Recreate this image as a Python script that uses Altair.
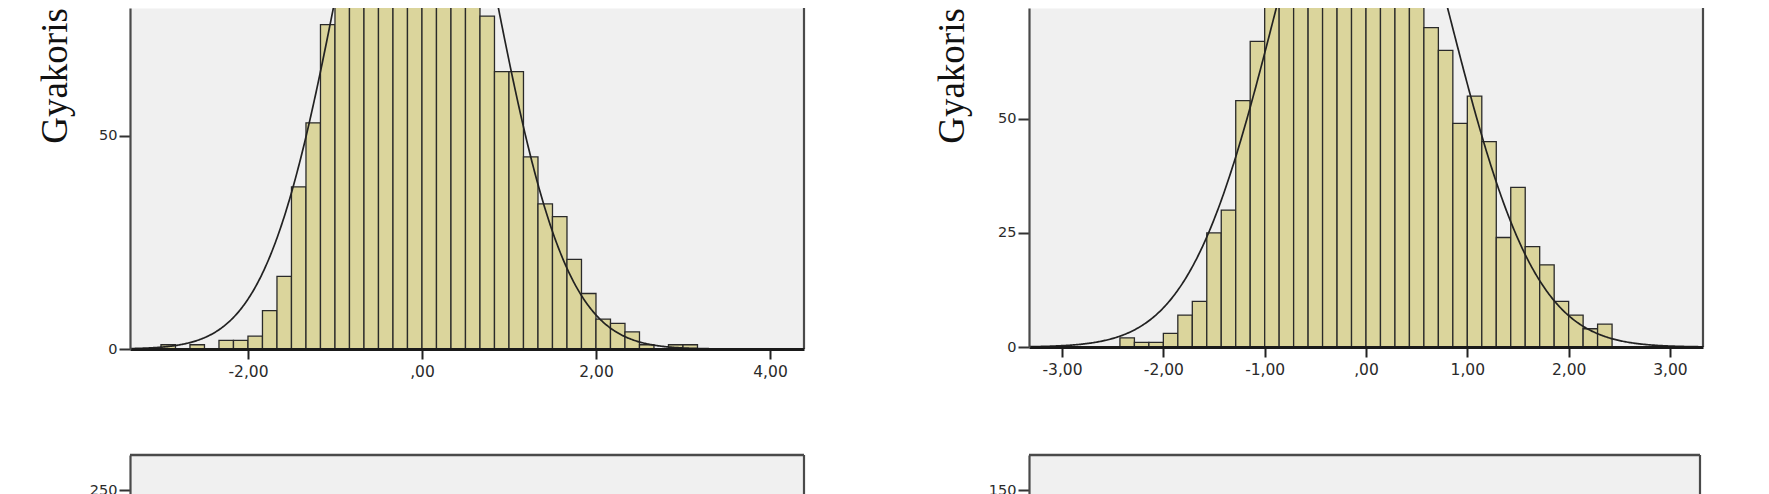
import altair as alt
import pandas as pd

# ---------------- data ----------------
# Top-left histogram: bins of width 1/6 starting at -3.0
left_bin_start = -3.0
left_bin_width = 1 / 6
left_counts = [1, 0, 1, 0, 2, 2, 3, 9, 17, 38, 53, 76,
               92, 108, 122, 135, 143, 147, 145, 138, 127, 112,
               78, 65, 65, 45, 34, 31, 21, 13, 7, 6, 4, 1, 0, 1, 1]
left_xticks = [-2, 0, 2, 4]
left_yticks = [0, 50, 100, 150]
left_mean, left_sd, left_n = -0.07, 0.857, 1900

# Top-right histogram: bins of width 1/7 starting at -17/7
right_bin_start = -17 / 7
right_bin_width = 1 / 7
right_counts = [2, 1, 1, 3, 7, 10, 25, 30, 54, 67, 75,
                84, 95, 105, 113, 119, 121, 120, 116, 108, 98,
                70, 65, 49, 55, 45, 24, 35, 22, 18, 10, 7, 4, 5]
right_xticks = [-3, -2, -1, 0, 1, 2, 3]
right_yticks = [0, 25, 50, 75, 100, 125]
right_mean, right_sd, right_n = -0.04, 0.851, 1817

# Bottom panels (only their top edge is visible)
bottom_left_yticks = [0, 50, 100, 150, 200, 250]
bottom_right_yticks = [0, 50, 100, 150]

Y_TITLE = "Gyakoriság"

BAR_FILL = "#dbd59c"
BAR_STROKE = "#2a2a2a"
PLOT_BG = "#f0f0f0"
LABEL_COLOR = "#2a2a2a"

LABEL_EXPR = ("datum.value == 0 ? ',00' : "
              "replace(replace(format(datum.value, '.2f'), '.', ','), '\u2212', '-')")


def hist_frame(start, width, counts):
    return pd.DataFrame({
        "x0": [start + i * width for i in range(len(counts))],
        "x1": [start + (i + 1) * width for i in range(len(counts))],
        "count": counts,
    })


def top_panel(df, xdom, ydom, w, h, xticks, yticks, mean, sd, n, bw, title_x, title_y):
    xscale = alt.Scale(domain=xdom, nice=False, zero=False)
    yscale = alt.Scale(domain=ydom, nice=False, zero=True)
    xaxis = alt.Axis(values=xticks, labelExpr=LABEL_EXPR, title=None, grid=False,
                     tickSize=10, tickWidth=2, tickColor="#222", labelPadding=5,
                     labelFont="DejaVu Sans", labelFontSize=15.5, labelColor=LABEL_COLOR,
                     domainColor="#1a1a1a", domainWidth=2.8, zindex=1, labelFlush=False)
    yaxis = alt.Axis(values=yticks, title=Y_TITLE, grid=False, labelOverlap=False,
                     tickSize=11, tickWidth=2, tickColor="#333", labelPadding=2,
                     labelFont="DejaVu Sans", labelFontSize=14.5, labelColor=LABEL_COLOR,
                     domainColor="#4a4a4a", domainWidth=2.2, zindex=1,
                     titleFont="Liberation Serif", titleFontSize=37, titleFontWeight="normal",
                     titleColor="#111", titleAngle=270, titleAlign="center",
                     titleBaseline="alphabetic", titleX=title_x, titleY=title_y)
    bars = alt.Chart(df).mark_bar(clip=True, fill=BAR_FILL, stroke=BAR_STROKE,
                                  strokeWidth=1.3).encode(
        x=alt.X("x0:Q", scale=xscale, axis=xaxis),
        x2="x1:Q",
        y=alt.Y("count:Q", scale=yscale, axis=yaxis),
        y2=alt.datum(0),
    )
    amp = n * bw / (sd * 2.5066282746)
    curve = alt.Chart(alt.sequence(xdom[0], xdom[1], 0.01, as_="xv")).transform_calculate(
        yv=f"{amp} * exp(-0.5 * pow((datum.xv - ({mean})) / {sd}, 2))"
    ).mark_line(clip=True, color="#222222", strokeWidth=1.7).encode(
        x="xv:Q", y="yv:Q"
    )
    edge = alt.Chart(pd.DataFrame({"a": [0]})).mark_rule(color="#4a4a4a", strokeWidth=2.2).encode(
        x=alt.value(w), y=alt.value(0), y2=alt.value(h)
    )
    return alt.layer(bars, curve, edge).properties(width=w, height=h)


def bottom_panel(w, h, ymax, yticks):
    yscale = alt.Scale(domain=[0, ymax], nice=False)
    yaxis = alt.Axis(values=yticks, title=None, grid=False, labelOverlap=False,
                     tickSize=11, tickWidth=2, tickColor="#333", labelPadding=2,
                     labelFont="DejaVu Sans", labelFontSize=14.5, labelColor=LABEL_COLOR,
                     domainColor="#4a4a4a", domainWidth=2.2, zindex=1)
    top = alt.Chart(pd.DataFrame({"v": [ymax]})).mark_rule(color="#4a4a4a", strokeWidth=2.5).encode(
        y=alt.Y("v:Q", scale=yscale, axis=yaxis), x=alt.value(0), x2=alt.value(w)
    )
    edge = alt.Chart(pd.DataFrame({"a": [0]})).mark_rule(color="#4a4a4a", strokeWidth=2.2).encode(
        x=alt.value(w), y=alt.value(0), y2=alt.value(h)
    )
    return alt.layer(top, edge).properties(width=w, height=h)


left_df = hist_frame(left_bin_start, left_bin_width, left_counts)
right_df = hist_frame(right_bin_start, right_bin_width, right_counts)

tl = top_panel(left_df, [-3.356, 4.391], [0, 79.9], 674, 341, left_xticks, left_yticks,
               left_mean, left_sd, left_n, left_bin_width, -64, 50)
tr = top_panel(right_df, [-3.326, 3.326], [0, 74.3], 674, 339, right_xticks, right_yticks,
               right_mean, right_sd, right_n, right_bin_width, -66, 50)
bl = bottom_panel(674, 300, 250 * 300 / 265, bottom_left_yticks)
br = bottom_panel(671, 300, 150 * 300 / 265, bottom_right_yticks)

chart = alt.concat(tl, tr, bl, br, columns=2, bounds="flush",
                   spacing={"row": 106, "column": 225}).properties(
    autosize=alt.AutoSizeParams(type="none"),
    padding={"left": 122, "top": 0, "right": 1631, "bottom": 486},
    background="white",
).configure_view(fill=PLOT_BG, stroke="transparent")

chart.save("out.html", embed_options={"renderer": "svg", "actions": False})
